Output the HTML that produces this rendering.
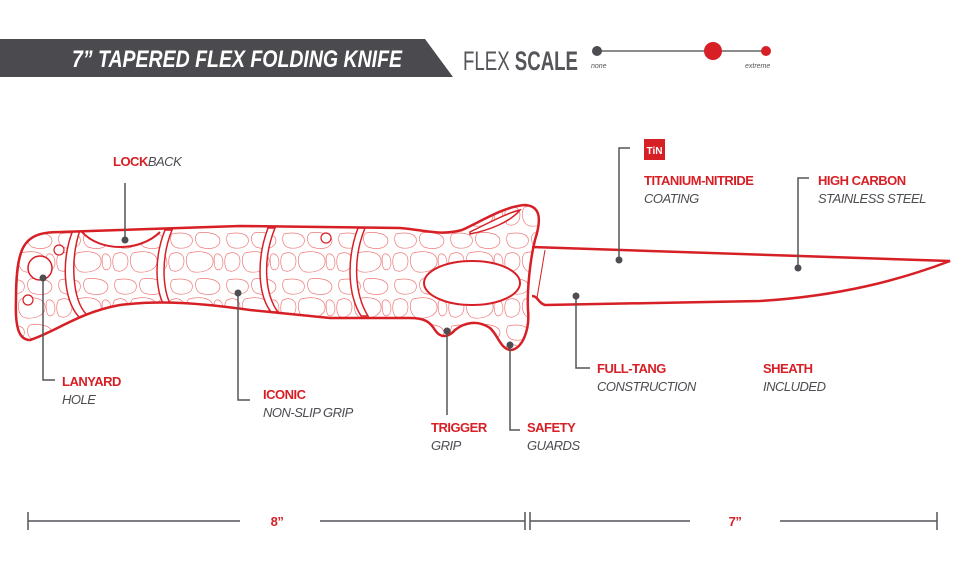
<!DOCTYPE html>
<html><head><meta charset="utf-8"><style>
html,body{margin:0;padding:0;background:#fff;width:980px;height:572px;overflow:hidden}
svg{display:block}
text{font-family:"Liberation Sans",sans-serif}
.lb{font-size:13px;font-weight:bold;fill:#d71f26;letter-spacing:-0.5px}
.it{font-size:13px;font-style:italic;fill:#4d4d52;letter-spacing:-0.5px}
</style></head><body>
<svg width="980" height="572" viewBox="0 0 980 572" xmlns="http://www.w3.org/2000/svg">
<defs>
<pattern id="tex" width="56" height="46" patternUnits="userSpaceOnUse">
<g fill="none" stroke="#e77" stroke-width="0.7">
<path d="M4,4 C12,2 22,3 24,8 C26,15 20,19 10,18 C3,17 1,9 4,4Z"/>
<path d="M30,3 C40,1 52,4 52,11 C51,19 40,20 32,17 C27,14 26,6 30,3Z"/>
<path d="M3,24 C9,21 16,23 16,31 C16,40 8,43 3,40 C0,36 0,27 3,24Z"/>
<path d="M21,23 C32,20 44,22 45,30 C46,39 36,43 26,42 C18,41 16,27 21,23Z"/>
<path d="M48,24 C53,23 55,28 55,34 C54,40 49,42 47,37 C46,32 45,26 48,24Z"/>
</g>
</pattern>
<clipPath id="hc"><path id="hp" d="M22,250 C28,236 40,232 60,232 L240,226 L400,228 C425,230 440,236 462,230 C480,222 505,206 525,205 C540,206 542,218 535,240 C530,260 527,290 528,310 C530,330 522,350 510,350 C500,348 498,335 490,328 C478,320 465,322 455,330 C448,338 440,338 435,330 C430,322 425,318 410,318 L330,318 L250,310 C200,303 160,300 120,305 C80,312 55,332 30,340 C18,340 15,325 16,300 C16,280 17,262 22,250 Z"/></clipPath>
</defs>
<polygon points="0,39 425,39 453,77 0,77" fill="#4a4a4f"/>
<text x="237" y="67" text-anchor="middle" font-size="24" font-weight="bold" font-style="italic" fill="#fff" textLength="330" lengthAdjust="spacingAndGlyphs">7” TAPERED FLEX FOLDING KNIFE</text>
<text x="463" y="70" font-size="27" fill="#55555a" textLength="115" lengthAdjust="spacingAndGlyphs">FLEX <tspan font-weight="bold">SCALE</tspan></text>
<line x1="597" y1="51" x2="766" y2="51" stroke="#666" stroke-width="1.5"/>
<circle cx="597" cy="51" r="5" fill="#4d4d52"/><circle cx="713" cy="51" r="9" fill="#d71f26"/><circle cx="766" cy="51" r="5" fill="#d71f26"/>
<text x="591" y="68" font-size="7" font-style="italic" fill="#555">none</text>
<text x="745" y="68" font-size="7" font-style="italic" fill="#555">extreme</text>

<path d="M532,247 L950,261 C900,280 840,296 760,301 L545,305 C538,303 538,296 532,296" fill="none" stroke="#d71f26" stroke-width="2.5"/>
<line x1="545" y1="250" x2="537" y2="298" stroke="#d71f26" stroke-width="1"/>
<g clip-path="url(#hc)"><rect x="0" y="200" width="560" height="160" fill="url(#tex)"/>
<path d="M82,232 C100,252 140,252 160,232" fill="#fff" stroke="#d71f26" stroke-width="2"/>
<g fill="#fff" stroke="#d71f26" stroke-width="1.5">
<path d="M80,230 C70,260 72,300 87,315 L79,317 C63,300 61,260 73,230Z"/>
<path d="M172,230 C160,260 162,295 175,312 L168,312 C155,295 153,260 165,230Z"/>
<path d="M275,228 C262,260 265,295 278,312 L271,312 C258,295 256,260 268,228Z"/>
<path d="M365,228 C352,260 355,295 368,316 L361,316 C348,295 346,260 358,228Z"/>
</g></g>
<use href="#hp" fill="none" stroke="#d71f26" stroke-width="2.5"/>
<ellipse cx="472" cy="283" rx="48" ry="22" fill="#fff" stroke="#d71f26" stroke-width="2"/>
<path d="M470,232 C490,222 510,212 520,210 C510,222 490,230 470,234Z" fill="#fff" stroke="#d71f26" stroke-width="1.5"/>
<circle cx="40" cy="268" r="12" fill="#fff" stroke="#d71f26" stroke-width="1.5"/>
<circle cx="59" cy="250" r="5" fill="#fff" stroke="#d71f26" stroke-width="1.2"/>
<circle cx="28" cy="300" r="5" fill="#fff" stroke="#d71f26" stroke-width="1.2"/>
<circle cx="326" cy="238" r="5" fill="#fff" stroke="#d71f26" stroke-width="1.2"/>

<g stroke="#55555a" stroke-width="1.5" fill="none">
<path d="M125,183 V240"/>
<path d="M43,278 V380 H55"/>
<path d="M238,293 V400 H250"/>
<path d="M447,331 V415"/>
<path d="M510,345 V430 H520"/>
<path d="M576,296 V368 H590"/>
<path d="M619,260 V148 H630"/>
<path d="M798,268 V178 H809"/>
</g>
<g fill="#4d4d52">
<circle cx="125" cy="240" r="3.5"/><circle cx="43" cy="278" r="3.5"/><circle cx="238" cy="293" r="3.5"/>
<circle cx="447" cy="331" r="3.5"/><circle cx="510" cy="345" r="3.5"/><circle cx="576" cy="296" r="3.5"/>
<circle cx="619" cy="260" r="3.5"/><circle cx="798" cy="268" r="3.5"/>
</g>
<text x="113" y="166" class="lb">LOCK<tspan class="it" font-weight="normal">BACK</tspan></text>
<text x="62" y="386" class="lb">LANYARD</text><text x="62" y="404" class="it">HOLE</text>
<text x="263" y="399" class="lb">ICONIC</text><text x="263" y="417" class="it">NON-SLIP GRIP</text>
<text x="431" y="432" class="lb">TRIGGER</text><text x="431" y="450" class="it">GRIP</text>
<text x="527" y="432" class="lb">SAFETY</text><text x="527" y="450" class="it">GUARDS</text>
<text x="597" y="373" class="lb">FULL-TANG</text><text x="597" y="391" class="it">CONSTRUCTION</text>
<text x="763" y="373" class="lb">SHEATH</text><text x="763" y="391" class="it">INCLUDED</text>
<rect x="644" y="139" width="21" height="21" fill="#d71f26"/>
<text x="654.5" y="154" text-anchor="middle" font-size="10" font-weight="bold" fill="#fff">TiN</text>
<text x="644" y="185" class="lb">TITANIUM-NITRIDE</text><text x="644" y="203" class="it">COATING</text>
<text x="818" y="185" class="lb">HIGH CARBON</text><text x="818" y="203" class="it">STAINLESS STEEL</text>

<g stroke="#55555a" stroke-width="1.5">
<path d="M28,521 H240 M320,521 H525 M28,512 V530 M525,512 V530"/>
<path d="M530,521 H690 M780,521 H937 M530,512 V530 M937,512 V530"/>
</g>
<text x="277" y="526" text-anchor="middle" class="lb">8”</text>
<text x="735" y="526" text-anchor="middle" class="lb">7”</text>
</svg>
</body></html>
